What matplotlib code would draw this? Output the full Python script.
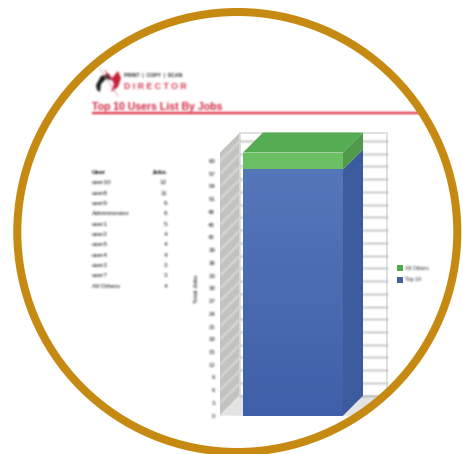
#!/usr/bin/env python3
import numpy as np
import matplotlib
matplotlib.use("Agg")
import matplotlib.pyplot as plt
from matplotlib.colors import LinearSegmentedColormap
from matplotlib.patches import Circle, Polygon, Rectangle
from matplotlib.text import Text

plt.rcParams['font.family'] = ['Liberation Sans', 'DejaVu Sans']

users = ['user10', 'user8', 'user9', 'Administrator', 'user1', 'user2',
         'user5', 'user4', 'user3', 'user7', 'All Others']
jobs = [12, 11, 6, 6, 5, 4, 4, 4, 3, 3, 4]
top10_total = [58]
others_total = [4]
yticks = list(range(0, 61, 3))
title = 'Top 10 Users List By Jobs'


def soften(img, dpi):
    # the reference is a blurry screenshot, small 1-2-1 blur per artist
    pad = 3
    a = np.pad(img, ((pad, pad), (pad, pad), (0, 0)))
    a[..., :3] *= a[..., 3:]
    for _ in range(2):
        for axis in (0, 1):
            a = (np.roll(a, 1, axis) + 2 * a + np.roll(a, -1, axis)) / 4
    alpha = np.maximum(a[..., 3:], 1e-6)
    a[..., :3] = np.clip(a[..., :3] / alpha, 0, 1)
    return a, -pad, -pad


W, H = 464, 454
fig = plt.figure(figsize=(W / 100, H / 100), dpi=100)

# page layer in pixel coordinates
page = fig.add_axes([0, 0, 1, 1])
page.set_xlim(0, W)
page.set_ylim(H, 0)
page.axis('off')

# logo
page.plot([100, 118], [69, 96], color='#d9a0a8', lw=0.6)
page.add_patch(Polygon([(96, 85), (101, 76), (108, 74), (112, 80), (106, 79), (101, 84), (100, 92), (97, 90)],
                       color='#1e1e1e', lw=0))
page.add_patch(Polygon([(104, 69), (112, 78), (118, 71), (121, 78), (118, 87), (111, 92), (114, 84), (112, 80), (108, 77)],
                       color='#c8203a', lw=0))
page.text(124, 75.5, 'PRINT  |  COPY  |  SCAN', fontsize=3.7, fontweight='bold',
          color='#222222', va='center')
page.text(124, 86.5, 'D I R E C T O R', fontsize=6.3, fontweight='bold', color='#d83048', va='center')

# heading
page.text(92, 107, title, fontsize=7.6, fontweight='bold', color='#d0203c', va='center')
page.plot([92, 430], [113, 113], color='#e2203c', lw=1.5, solid_capstyle='butt')

# table
page.text(92, 172.7, 'User', fontsize=4.6, fontweight='bold', color='black', va='center')
page.text(167, 172.7, 'Jobs', fontsize=4.6, fontweight='bold', color='black', va='center', ha='right')
for i, (u, j) in enumerate(zip(users, jobs)):
    y = 172.7 + (i + 1) * 10.3
    page.text(92, y, u, fontsize=4.6, color='#111111', va='center')
    page.text(167, y, str(j), fontsize=4.6, color='#111111', va='center', ha='right')

# chart, bar front face fills the axes width
x_left, x_right = 243, 343
y_zero, y_sixty = 415.7, 161
ax = fig.add_axes([x_left / W, 1 - y_zero / H, (x_right - x_left) / W, (y_zero - y_sixty) / H])
ax.patch.set_alpha(0)
for s in ax.spines.values():
    s.set_visible(False)

dx = 0.20
dy = 20 / ((y_zero - y_sixty) / 60)
wall_l = -0.53
wall_r = wall_l + 1.47
top = 62

# floor, side wall and back wall
ax.add_patch(Polygon([(wall_l - dx, 0), (wall_l, dy), (wall_r, dy), (wall_r - dx, 0)],
                     color='#e4e4e4', lw=0, clip_on=False, zorder=1))
ax.add_patch(Polygon([(wall_l - dx, 0), (wall_l, dy), (wall_l, top + dy), (wall_l - dx, top)],
                     color='#c2c2bf', lw=0, clip_on=False, zorder=1))
ax.add_patch(Rectangle((wall_l, dy), wall_r - wall_l, top, fc='white', ec='#dcdcdc', lw=1.2,
                       clip_on=False, zorder=1))
for v in yticks:
    ax.plot([wall_l - dx, wall_l], [v, v + dy], color='#ecece9', lw=0.9, clip_on=False, zorder=2)
    ax.plot([wall_l, wall_r], [v + dy, v + dy], color='#a8a8a8', lw=0.9, clip_on=False, zorder=2)

# stacked bar with depth
ax.bar([0], top10_total, width=1, color='#4a6cb2', zorder=3, clip_on=False)
ax.bar([0], others_total, width=1, bottom=top10_total, color='#6abf62', zorder=3, clip_on=False)
grad = np.linspace(0, 1, 64).reshape(-1, 1)
cmap = LinearSegmentedColormap.from_list('b', ['#3f5fa8', '#5676ba'])
im = ax.imshow(grad, extent=(-0.5, 0.5, 0, top10_total[0]), origin='lower', aspect='auto',
               cmap=cmap, zorder=3.5)
im.set_clip_on(False)
ax.set_xlim(-0.5, 0.5)
ax.set_ylim(0, 60)

t10 = top10_total[0]
tot = t10 + others_total[0]
ax.add_patch(Polygon([(0.5, 0), (0.5 + dx, dy), (0.5 + dx, t10 + dy), (0.5, t10)],
                     color='#3c5a9e', lw=0, clip_on=False, zorder=3))
ax.add_patch(Polygon([(0.5, t10), (0.5 + dx, t10 + dy), (0.5 + dx, tot + dy), (0.5, tot)],
                     color='#519a4c', lw=0, clip_on=False, zorder=3))
ax.add_patch(Polygon([(-0.5, tot), (0.5, tot), (0.5 + dx, tot + dy), (-0.5 + dx, tot + dy)],
                     color='#55ac53', lw=0, clip_on=False, zorder=3))

ax.set_xticks([])
ax.set_yticks(yticks)
ax.set_yticklabels([str(v) for v in yticks], fontsize=4.4, color='#111111')
ax.tick_params(axis='y', length=0, pad=20)
ax.set_ylabel('Total Jobs', fontsize=4.6, color='black')
ax.yaxis.set_label_coords((199 - x_left) / (x_right - x_left), 0.5)

# legend
for y, col, lab in [(268, '#4fa94d', 'All Others'), (280, '#3f60a8', 'Top 10')]:
    page.add_patch(Rectangle((397.5, y - 3), 6, 6, color=col, lw=0))
    page.text(405, y, lab, fontsize=3.9, color='#222222', va='center')

for a in page.findobj(lambda o: isinstance(o, (Text, Polygon)) or o in page.lines):
    a.set_agg_filter(soften)
for t in ax.get_yticklabels() + [ax.yaxis.label]:
    t.set_agg_filter(soften)
for l in ax.lines:
    l.set_agg_filter(soften)

# gold ring on top, page is white outside it
ring = fig.add_axes([0, 0, 1, 1], zorder=10)
ring.set_xlim(0, W)
ring.set_ylim(H, 0)
ring.axis('off')
cx, cy, r = 237.3, 232, 220
ring.add_patch(Circle((cx, cy), r + 60, fc='none', ec='white', lw=84))
ring.add_patch(Circle((cx, cy), r, fc='none', ec='#c68a12', lw=5.8))

fig.savefig('out.png', dpi=100)
